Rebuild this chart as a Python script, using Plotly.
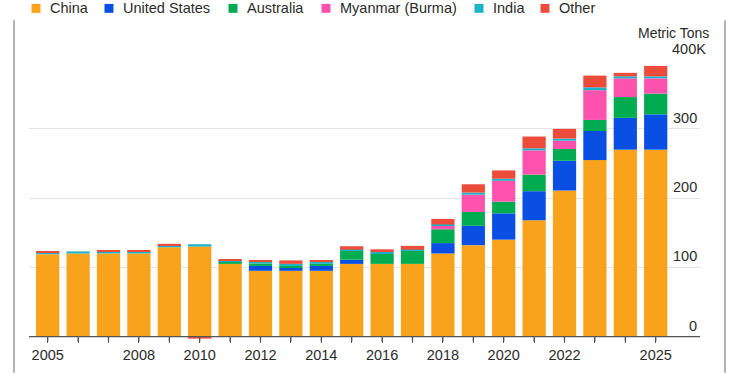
import plotly.graph_objects as go

# ---------------- data (thousand metric tons) ----------------
years = list(range(2005, 2026))
china = [119, 120, 120, 120, 129, 130, 105, 95, 95, 95, 105, 105, 105, 120, 132, 140, 168, 211, 255, 270, 270]
united_states = [0, 0, 0, 0, 0, 0, 0, 7, 4, 7, 6, 0, 0, 15, 28, 38, 42, 43, 42, 46, 51]
australia = [0, 0, 0, 0, 0, 0, 3.5, 3.5, 3, 3, 13, 15, 19, 20, 20, 17, 24, 17, 16, 30, 30]
myanmar = [0, 0, 0, 0, 0, 0, 0, 0, 0, 0, 0, 0, 0, 5, 25, 30, 35, 12, 43, 27, 22]
india = [3, 3, 3, 3, 3, 3.4, 2, 3, 3, 3, 1.5, 2, 1.5, 2, 3, 3, 3, 3, 4, 3, 3]
other = [0.5, 0, 1, 1, 2, -3, 1, 1.5, 5, 2, 5, 4, 5.5, 8, 12, 12, 17, 14, 17, 5, 15]

series_names = ["China", "United States", "Australia", "Myanmar (Burma)", "India", "Other"]
series_values = [china, united_states, australia, myanmar, india, other]
x_label_years = [2005, 2008, 2010, 2012, 2014, 2016, 2018, 2020, 2022, 2025]
y_ticks = [0, 100, 200, 300, 400]

# ---------------- styles ----------------
colors = ["#F9A21B", "#0A4FE4", "#00AC4F", "#FF52AE", "#1DB2C6", "#EE4C3B"]
FONT = "Liberation Sans, Arial, Helvetica, sans-serif"
TXT = "#2b2b2b"
AXIS = "#555555"
W, H = 750, 375
L, R, T, B = 29, 50, 59, 33
PW, PH = W - L - R, H - T - B
Y_MIN, Y_MAX = -5, 401
TICK_PX = 5


def px2x(px):
    return (px - L) / PW


def py2y(py):
    return (H - B - py) / PH


zero_paper = (0 - Y_MIN) / (Y_MAX - Y_MIN)

fig = go.Figure()
for name, vals, col in zip(series_names, series_values, colors):
    fig.add_trace(go.Bar(x=years, y=vals, name=name, marker_color=col,
                         marker_line_width=0, showlegend=False))

fig.update_layout(
    width=W, height=H,
    margin=dict(l=L, r=R, t=T, b=B, pad=0),
    barmode="relative",
    bargap=0.235,
    plot_bgcolor="white", paper_bgcolor="white",
    font=dict(family=FONT, color=TXT, size=14),
    xaxis=dict(
        range=[2004.385, 2026.457],
        anchor="free",
        position=zero_paper,
        showgrid=False, zeroline=False,
        showline=False,
        ticks="outside", ticklen=TICK_PX, tickwidth=1.3, tickcolor=AXIS,
        tickvals=years,
        ticktext=[str(y) if y in x_label_years else "" for y in years],
        tickfont=dict(size=14.5, color=TXT, family=FONT),
    ),
    yaxis=dict(
        range=[Y_MIN, Y_MAX],
        tickvals=[v for v in y_ticks if v > 0],
        showticklabels=False,
        showgrid=True, gridcolor="#e3e3e3", gridwidth=1,
        zeroline=False, showline=False,
    ),
)

annotations = []
shapes = []

# baseline at zero
shapes.append(dict(
    type="line", xref="paper", yref="y", x0=0, x1=1, y0=0, y1=0,
    line=dict(color=AXIS, width=1.3), layer="above",
))
# tick marks under the baseline, one per year
for yr in years:
    shapes.append(dict(
        type="line", xref="x", yref="paper", x0=yr, x1=yr,
        y0=zero_paper, y1=zero_paper - TICK_PX / PH,
        line=dict(color=AXIS, width=1.3), layer="above",
    ))

# y tick labels (right side, above gridlines)
for v in y_ticks:
    label = f"{v}K" if v == max(y_ticks) else str(v)
    annotations.append(dict(
        x=1, xref="paper", y=v, yref="y",
        xanchor="right", yanchor="bottom",
        xshift=(8 if label.endswith("K") else -1), yshift=1,
        text=label, showarrow=False,
        font=dict(size=14.5, color=TXT, family=FONT),
    ))

annotations.append(dict(
    x=px2x(711), xref="paper", y=py2y(33), yref="paper",
    xanchor="right", yanchor="middle",
    text="Metric Tons", showarrow=False,
    font=dict(size=14, color=TXT, family=FONT),
))

# custom legend
legend_text_x = [50, 123, 247, 340, 493, 559]
legend_y = 8
sq = 9
for name, col, tx in zip(series_names, colors, legend_text_x):
    cx = tx - 14
    shapes.append(dict(
        type="rect", xref="paper", yref="paper",
        x0=px2x(cx - sq / 2), x1=px2x(cx + sq / 2),
        y0=py2y(legend_y + sq / 2), y1=py2y(legend_y - sq / 2),
        fillcolor=col, line=dict(width=0),
    ))
    annotations.append(dict(
        x=px2x(tx - 2), xref="paper", y=py2y(legend_y), yref="paper",
        xanchor="left", yanchor="middle",
        text=name, showarrow=False,
        font=dict(size=14.5, color=TXT, family=FONT),
    ))

# frame lines left and right
for bx in (14, 725):
    shapes.append(dict(
        type="line", xref="paper", yref="paper",
        x0=px2x(bx), x1=px2x(bx), y0=py2y(H), y1=py2y(20),
        line=dict(color="#8a8a8a", width=1.3),
    ))

fig.update_layout(annotations=annotations, shapes=shapes)
fig.write_html(
    "out.html",
    config={"displayModeBar": False},
    post_script="document.body.style.margin='0';document.body.style.padding='0';",
)
